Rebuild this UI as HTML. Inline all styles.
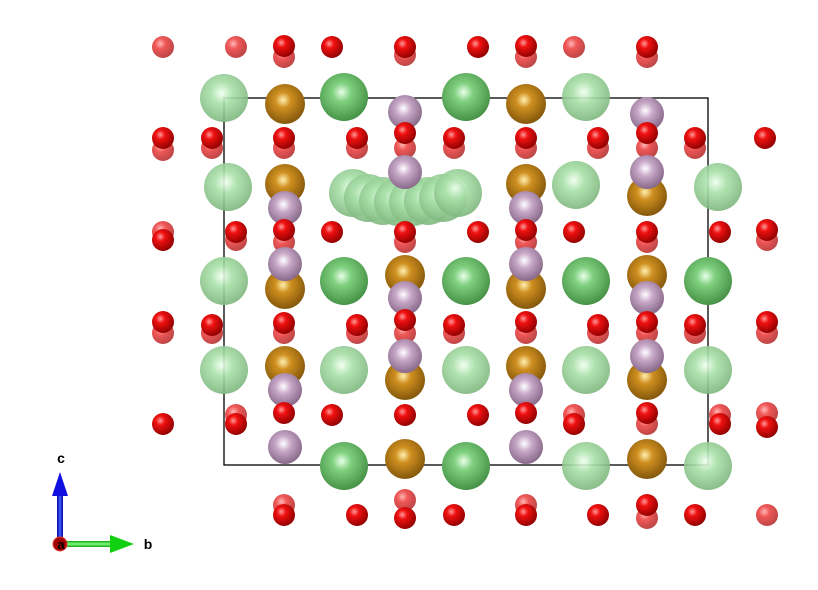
<!DOCTYPE html>
<html><head><meta charset="utf-8"><style>
html,body{margin:0;padding:0;background:#fff;}
svg{display:block;}
</style></head><body>
<svg id="s" width="818" height="590" viewBox="0 0 818 590" xmlns="http://www.w3.org/2000/svg">
<defs>
<radialGradient id="gR" cx="0.38" cy="0.35" r="0.7"><stop offset="0" stop-color="#ff9a9a"/><stop offset="0.3" stop-color="#f01010"/><stop offset="1" stop-color="#8a0000"/></radialGradient>
<radialGradient id="gRl" cx="0.38" cy="0.35" r="0.7"><stop offset="0" stop-color="#ffb0b0"/><stop offset="0.35" stop-color="#ee4444"/><stop offset="1" stop-color="#b03030"/></radialGradient>
<radialGradient id="gG" cx="0.45" cy="0.4" r="0.65"><stop offset="0" stop-color="#e8ffe8"/><stop offset="0.3" stop-color="#7fd07f"/><stop offset="1" stop-color="#3f8a3f"/></radialGradient>
<radialGradient id="gGl" cx="0.45" cy="0.4" r="0.65"><stop offset="0" stop-color="#f0fff0"/><stop offset="0.35" stop-color="#a8e0a8"/><stop offset="1" stop-color="#78b078"/></radialGradient>
<radialGradient id="gB" cx="0.45" cy="0.4" r="0.65"><stop offset="0" stop-color="#fff0b0"/><stop offset="0.3" stop-color="#d09020"/><stop offset="1" stop-color="#7a5008"/></radialGradient>
<radialGradient id="gP" cx="0.45" cy="0.4" r="0.65"><stop offset="0" stop-color="#ffffff"/><stop offset="0.35" stop-color="#c8a8c8"/><stop offset="1" stop-color="#806080"/></radialGradient>
<linearGradient id="gBlue" x1="0" x2="1"><stop offset="0" stop-color="#0000a0"/><stop offset="0.5" stop-color="#4060ff"/><stop offset="1" stop-color="#0000a0"/></linearGradient>
<linearGradient id="gGreen" x1="0" x2="0" y1="0" y2="1"><stop offset="0" stop-color="#10a010"/><stop offset="0.5" stop-color="#80ff80"/><stop offset="1" stop-color="#10a010"/></linearGradient>
</defs>
<rect x="224" y="98" width="484" height="367" fill="none" stroke="#000" stroke-width="1.3"/>
<g id="atoms"></g>
<g>
<rect x="57" y="494" width="6" height="50" fill="url(#gBlue)"/>
<polygon points="52,496 68,496 60,472" fill="#1010e0"/>
<rect x="60" y="541" width="52" height="6" fill="url(#gGreen)"/>
<polygon points="110,535 110,553 134,544" fill="#10d010"/>
<circle cx="60" cy="544" r="7" fill="#a00000" stroke="#e04040" stroke-width="1"/>
<text x="61" y="463" font-family="Liberation Sans, sans-serif" font-weight="bold" font-size="14" text-anchor="middle">c</text>
<text x="148" y="549" font-family="Liberation Sans, sans-serif" font-weight="bold" font-size="14" text-anchor="middle">b</text>
<text x="61" y="549" font-family="Liberation Sans, sans-serif" font-weight="bold" font-size="13" text-anchor="middle">a</text>
</g>
</svg>
<script>
const oxygenBack = [[163,47],[236,47],[284,57],[405,55],[526,57],[574,47],[647,57],[163,150],[212,148],[284,148],[357,148],[405,148],[454,148],[526,148],[598,148],[647,148],[695,148],[163,232],[236,240],[284,242],[405,242],[526,242],[647,242],[767,240],[163,333],[212,333],[284,333],[357,333],[405,333],[454,333],[526,333],[598,333],[647,333],[695,333],[767,333],[236,415],[574,415],[647,424],[720,415],[767,413],[284,505],[405,500],[526,505],[647,518],[767,515]];
const oxygenFront = [[284,46],[332,47],[405,47],[478,47],[526,46],[647,47],[163,138],[212,138],[284,138],[357,138],[405,133],[454,138],[526,138],[598,138],[647,133],[695,138],[765,138],[163,240],[236,232],[284,230],[332,232],[405,232],[478,232],[526,230],[574,232],[647,232],[720,232],[767,230],[163,322],[212,325],[284,323],[357,325],[405,320],[454,325],[526,322],[598,325],[647,322],[695,325],[767,322],[163,424],[236,424],[284,413],[332,415],[405,415],[478,415],[526,413],[574,424],[647,413],[720,424],[767,427],[284,515],[357,515],[405,518],[454,515],[526,515],[598,515],[647,505],[695,515]];
const greenLight = [[224,98],[586,97],[228,187],[718,187],[576,185],[353,193],[368,198],[383,201],[398,202],[413,202],[428,201],[443,198],[458,193],[224,281],[224,370],[344,370],[466,370],[586,370],[708,370],[586,466],[708,466]];
const greenDark = [[344,97],[466,97],[344,281],[466,281],[586,281],[708,281],[344,466],[466,466]];
const brown = [[285,104],[526,104],[285,184],[526,184],[647,196],[405,275],[647,275],[285,289],[526,289],[285,366],[526,366],[405,380],[647,380],[405,459],[647,459]];
const purple = [[405,112],[647,114],[405,172],[647,172],[285,208],[526,208],[285,264],[526,264],[405,298],[647,298],[405,356],[647,356],[285,390],[526,390],[285,447],[526,447]];
const radii = {oxygenBack:11, oxygenFront:11, greenLight:24, greenDark:24, brown:20, purple:17};

const g = document.getElementById('atoms');
const NS = 'http://www.w3.org/2000/svg';
function draw(list, r, fill, name, op) {
  list.forEach(function(p){
    const c = document.createElementNS(NS, 'circle');
    c.setAttribute('cx', p[0]); c.setAttribute('cy', p[1]); c.setAttribute('r', r);
    c.setAttribute('fill', fill);
    if (op) c.setAttribute('opacity', op);
    
    
    g.appendChild(c);
  });
}
draw(oxygenBack, radii.oxygenBack, 'url(#gRl)', 'oxygen-atom-back', 0.9);
draw(greenLight, radii.greenLight, 'url(#gGl)', 'green-atom-light', 0.9);
draw(brown, radii.brown, 'url(#gB)', 'brown-atom');
draw(purple, radii.purple, 'url(#gP)', 'purple-atom');
draw(greenDark, radii.greenDark, 'url(#gG)', 'green-atom');
draw(oxygenFront, radii.oxygenFront, 'url(#gR)', 'oxygen-atom');
</script>
</body></html>
